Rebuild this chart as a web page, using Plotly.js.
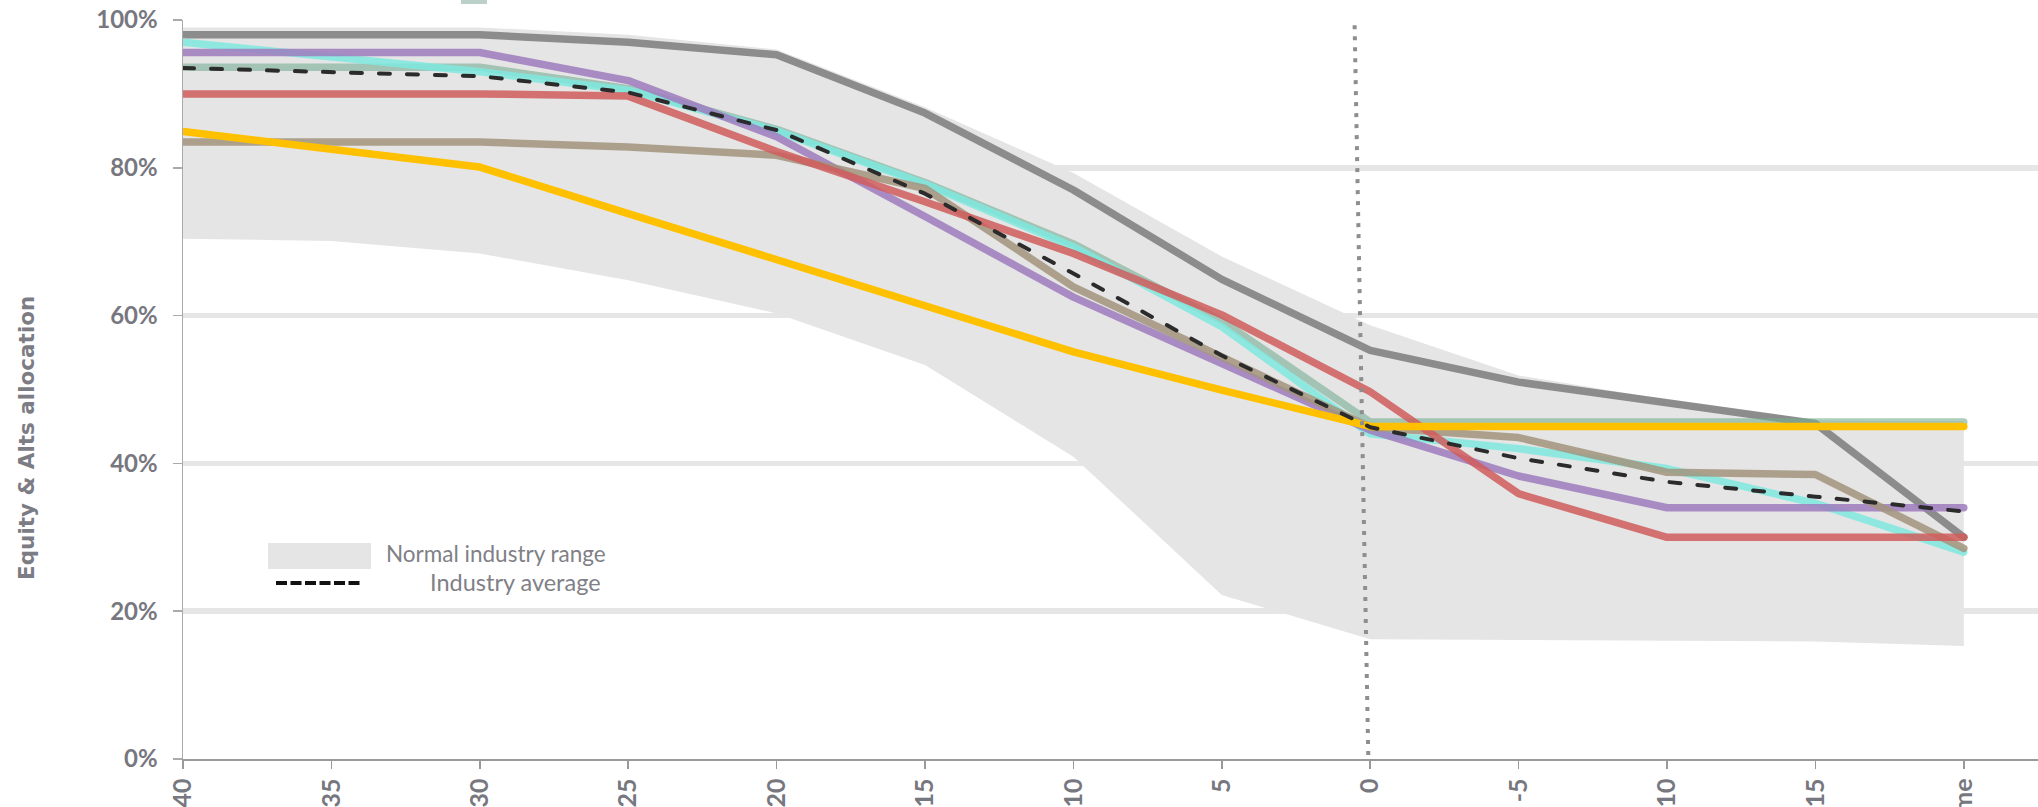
<!DOCTYPE html>
<html><head><meta charset="utf-8">
<script src="https://cdn.plot.ly/plotly-3.0.1.min.js"></script>
<style>
html,body{margin:0;padding:0;background:#fff;}
#chart{width:2038px;height:807px;}
.scatterlayer .js-line{stroke-linecap:round;stroke-linejoin:round;}
</style></head><body><div id="chart"></div>
<script>
// Years to retirement (last = retirement income stage)
const categories = ["40","35","30","25","20","15","10","5","0","-5","-10","-15","Income"];
// Equity & Alts allocation, %
const rangeLower   = [70.4, 70.1, 68.4, 64.8, 60.3, 53.3, 40.9, 22.2, 16.2, 16.1, 16.1, 15.9, 15.3];
const rangeUpper   = [99.0, 99.0, 99.0, 98.0, 96.0, 88.2, 79.3, 68.0, 58.7, 51.9, 48.6, 45.8, 45.7];
const industryAverage = [93.5, 93.0, 92.4, 90.2, 85.1, 76.5, 65.7, 54.6, 44.9, 40.7, 37.5, 35.5, 33.5];
const fundGray   = [98.0, 98.0, 98.0, 97.0, 95.3, 87.4, 77.0, 64.9, 55.3, 51.0, 48.1, 45.4, 30.0];
const fundGreen  = [93.6, 93.6, 93.6, 90.7, 85.2, 78.0, 69.7, 59.3, 45.6, 45.6, 45.6, 45.6, 45.6];
const fundCyan   = [97.0, 95.0, 93.0, 90.5, 85.0, 77.8, 69.3, 58.5, 44.0, 42.0, 39.3, 34.6, 28.0];
const fundPurple = [95.6, 95.6, 95.6, 91.8, 84.2, 73.4, 62.5, 53.5, 44.5, 38.3, 34.0, 34.0, 34.0];
const fundKhaki  = [83.5, 83.5, 83.5, 82.8, 81.7, 77.2, 63.9, 54.4, 44.9, 43.5, 38.8, 38.5, 28.5];
const fundRed    = [90.0, 90.0, 90.0, 89.7, 82.2, 75.4, 68.4, 60.1, 49.7, 35.9, 30.0, 30.0, 30.0];
const fundYellow = [84.9, 82.5, 80.1, 73.8, 67.5, 61.2, 55.1, 49.9, 45.0, 45.0, 45.0, 45.0, 45.0];
const yTicks = [0, 20, 40, 60, 80, 100];
const yTickLabels = ["0%", "20%", "40%", "60%", "80%", "100%"];
// retirement marker (dotted) endpoints: [category position, %]
const retireTop = [7.895, 99.3];
const retireBottom = [7.987, 0.5];

const xs = categories.map((c, i) => i);
const W = 7.5;
function fund(y, color) {
  return {x: xs, y: y, type: 'scatter', mode: 'lines', line: {color: color, width: W}, hoverinfo: 'skip', showlegend: false};
}
const data = [
  {x: xs, y: rangeLower, type: 'scatter', mode: 'lines', line: {width: 0, color: 'rgba(0,0,0,0)'}, hoverinfo: 'skip', showlegend: false},
  {x: xs, y: rangeUpper, type: 'scatter', mode: 'lines', fill: 'tonexty', fillcolor: '#e5e5e5', line: {width: 0, color: 'rgba(0,0,0,0)'}, hoverinfo: 'skip', showlegend: false},
  fund(fundGray, 'rgba(128,128,128,0.88)'),
  fund(fundGreen, 'rgba(119,174,147,0.6)'),
  fund(fundCyan, 'rgba(127,233,223,0.85)'),
  fund(fundPurple, 'rgba(159,123,190,0.85)'),
  fund(fundKhaki, 'rgba(162,148,125,0.85)'),
  fund(fundRed, 'rgba(208,92,92,0.85)'),
  fund(fundYellow, '#ffc000'),
  {x: xs, y: industryAverage, type: 'scatter', mode: 'lines', line: {color: '#2b2b2b', width: 4, dash: '11px,17px'}, hoverinfo: 'skip', showlegend: false}
];

const L = 183, T = 20, B = 48, PW = 2038 - L, PH = 807 - T - B;
const px = v => (v - L) / PW;
const py = v => (807 - B - v) / PH;

const layout = {
  width: 2038, height: 807,
  margin: {l: L, r: 0, t: T, b: B, pad: 0},
  paper_bgcolor: '#fff', plot_bgcolor: '#fff',
  showlegend: false,
  xaxis: {
    range: [0, 12.5], tickmode: 'array', tickvals: xs, ticktext: categories,
    tickangle: -90, showgrid: false, zeroline: false,
    showline: true, linecolor: '#9a9a9a', linewidth: 1.5,
    ticks: 'outside', ticklen: 8, tickwidth: 1.5, tickcolor: '#9a9a9a',
    tickfont: {family: 'Lato', size: 25, color: '#77777f', weight: 'bold'},
    automargin: false, fixedrange: true
  },
  yaxis: {
    range: [0, 100], tickmode: 'array', tickvals: yTicks, ticktext: yTickLabels,
    showgrid: true, gridcolor: '#e6e6e6', gridwidth: 5.5, zeroline: false,
    showline: true, linecolor: '#aaaaaa', linewidth: 1.5,
    ticks: 'outside', ticklen: 9, tickwidth: 1.5, tickcolor: '#aaaaaa',
    tickfont: {family: 'Lato', size: 24, color: '#77777f', weight: 'bold'},
    ticklabelstandoff: 10,
    automargin: false, fixedrange: true
  },
  shapes: [
    {type: 'line', xref: 'x', yref: 'y', x0: retireTop[0], y0: retireTop[1], x1: retireBottom[0], y1: retireBottom[1],
     line: {color: '#8e8e8e', width: 4, dash: '4px,7px'}},
    {type: 'rect', xref: 'paper', yref: 'paper', x0: px(268), x1: px(371), y0: py(569), y1: py(543),
     fillcolor: '#e5e5e5', line: {width: 0}},
    {type: 'line', xref: 'paper', yref: 'paper', x0: px(276), x1: px(362), y0: py(583), y1: py(583),
     line: {color: '#111', width: 4, dash: '11px,3.5px'}},
    {type: 'rect', xref: 'paper', yref: 'paper', x0: px(461), x1: px(487), y0: py(4), y1: py(0),
     fillcolor: '#bcd0ca', line: {width: 0}}
  ],
  annotations: [
    {text: 'Equity &amp; Alts allocation', xref: 'paper', yref: 'paper', x: px(27), y: py(438), textangle: -90,
     showarrow: false, xanchor: 'center', yanchor: 'middle',
     font: {family: 'DejaVu Sans', size: 21.5, color: '#7c7c84', weight: 'bold'}},
    {text: 'Normal industry range', xref: 'paper', yref: 'paper', x: px(384), y: py(553), showarrow: false,
     xanchor: 'left', yanchor: 'middle', font: {family: 'Lato', size: 22.5, color: '#808086'}},
    {text: 'Industry average', xref: 'paper', yref: 'paper', x: px(428), y: py(582), showarrow: false,
     xanchor: 'left', yanchor: 'middle', font: {family: 'Lato', size: 23.5, color: '#808086'}}
  ],
  hovermode: false
};
Plotly.newPlot('chart', data, layout, {staticPlot: true, displayModeBar: false});
</script></body></html>
